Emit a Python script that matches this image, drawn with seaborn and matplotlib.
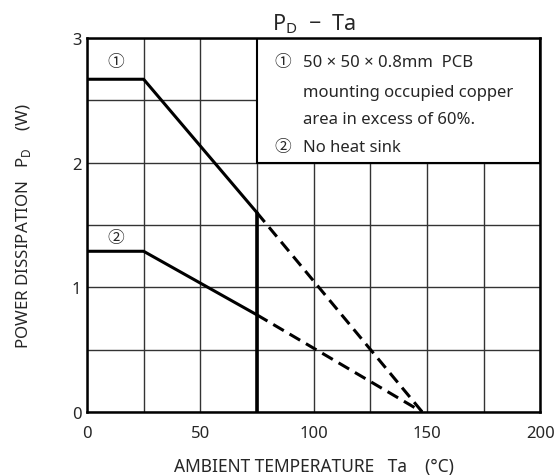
import matplotlib
matplotlib.use("Agg")
import matplotlib.pyplot as plt
from matplotlib.patches import Rectangle
import seaborn as sns
import pandas as pd

# derating curves (solid part up to 75 C, dashed extrapolation to zero)
ta_solid = [0, 25, 75]
pd_pcb = [2.67, 2.67, 1.6]
pd_nosink = [1.29, 1.29, 0.78]

ta_dash = [75, 148]
pd_pcb_dash = [1.6, 0.0]
pd_nosink_dash = [0.78, 0.0]

limit_ta = [75, 75]
limit_pd = [0.0, 1.6]

x_ticks = [0, 50, 100, 150, 200]
y_ticks = [0, 1, 2, 3]

note_lines = ["50 × 50 × 0.8mm  PCB",
              "mounting occupied copper",
              "area in excess of 60%.",
              "No heat sink"]

sns.set_style("white")
plt.rcParams["font.family"] = ["Noto Sans", "Noto Sans CJK JP", "DejaVu Sans"]

fig = plt.figure(figsize=(5.54, 4.77), dpi=100)
ax = fig.add_axes([0.157, 0.134, 0.818, 0.784])

solid = pd.DataFrame({"ta": ta_solid * 2,
                      "pd": pd_pcb + pd_nosink,
                      "curve": ["1"] * 3 + ["2"] * 3})
dash = pd.DataFrame({"ta": ta_dash * 2,
                     "pd": pd_pcb_dash + pd_nosink_dash,
                     "curve": ["1"] * 2 + ["2"] * 2})

sns.lineplot(data=solid, x="ta", y="pd", units="curve", estimator=None,
             color="black", lw=2.2, legend=False, ax=ax, zorder=4)
sns.lineplot(data=dash, x="ta", y="pd", units="curve", estimator=None,
             color="black", lw=2.2, dashes=False, legend=False, ax=ax,
             zorder=4, linestyle=(0, (4, 2.2)))
ax.plot(limit_ta, limit_pd, color="black", lw=2.6, zorder=4)

ax.set_xlim(0, 200)
ax.set_ylim(0, 3)
ax.set_xticks(x_ticks)
ax.set_yticks(y_ticks)
ax.set_xticks(range(25, 200, 50), minor=True)
ax.set_yticks([0.5, 1.5, 2.5], minor=True)
ax.grid(True, which="both", color="#333333", lw=1.0, zorder=1)
ax.tick_params(which="both", length=0, labelsize=12)
ax.tick_params(axis="x", pad=9)
ax.tick_params(axis="y", pad=4)
for s in ax.spines.values():
    s.set_color("black")
    s.set_linewidth(1.8)
    s.set_zorder(5)

# note box
ax.add_patch(Rectangle((75, 2.0), 125, 1.0, facecolor="white",
                       edgecolor="black", lw=1.5, zorder=3))
ax.text(86.5, 2.81, "①", fontsize=12, ha="center", va="center", zorder=6)
ax.text(86.5, 2.13, "②", fontsize=12, ha="center", va="center", zorder=6)
for yy, line in zip([2.81, 2.57, 2.35, 2.13], note_lines):
    ax.text(95.5, yy, line, fontsize=12, va="center", zorder=6)

ax.text(12.5, 2.81, "①", fontsize=12, ha="center", va="center", zorder=6)
ax.text(12.5, 1.40, "②", fontsize=12, ha="center", va="center", zorder=6)

ax.set_title(r"P$_\mathregular{D}$  −  Ta", fontsize=15.5, pad=6)
ax.set_xlabel("AMBIENT TEMPERATURE   Ta    (°C)", fontsize=12.5, labelpad=12)
ax.set_ylabel(r"POWER DISSIPATION   P$_\mathregular{D}$    (W)", fontsize=12.2,
              labelpad=28)

fig.savefig("out.png", dpi=100)
